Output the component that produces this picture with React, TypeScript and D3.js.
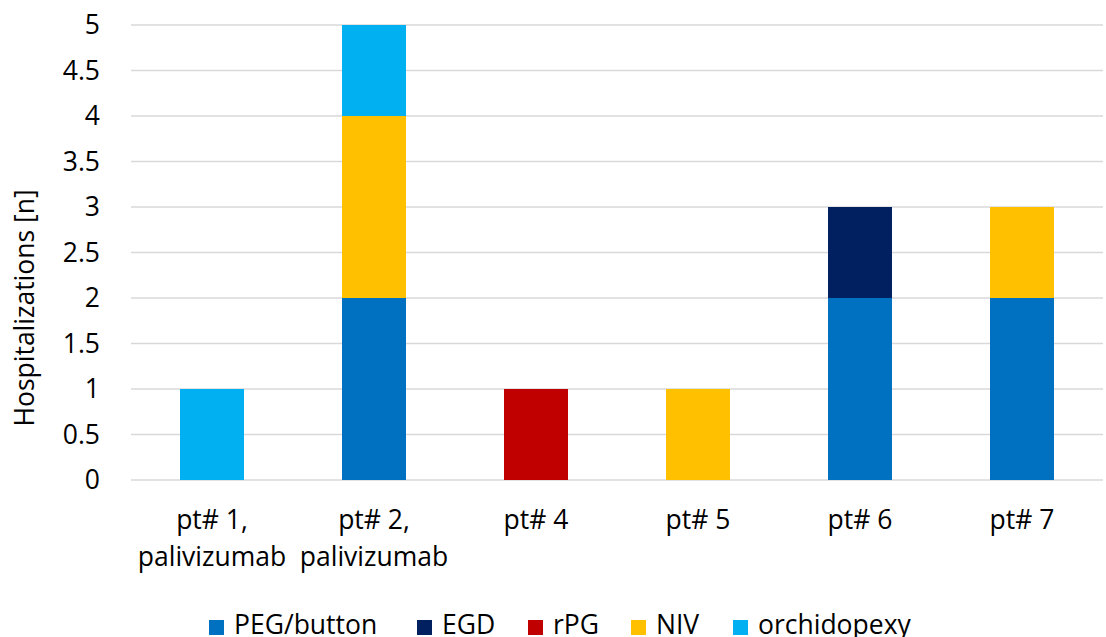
import React from "react";
import * as d3 from "d3";

const categories = [["pt# 1,", "palivizumab"], ["pt# 2,", "palivizumab"], ["pt# 4"], ["pt# 5"], ["pt# 6"], ["pt# 7"]];
const seriesNames = ["PEG/button", "EGD", "rPG", "NIV", "orchidopexy"];
const seriesColors = ["#0070C0", "#002060", "#C00000", "#FFC000", "#00B0F0"];
const pegButton = [0, 2, 0, 0, 2, 2];
const egd = [0, 0, 0, 0, 1, 0];
const rpg = [0, 0, 1, 0, 0, 0];
const niv = [0, 2, 0, 1, 0, 1];
const orchidopexy = [1, 1, 0, 0, 0, 0];
const yTicks = [0, 0.5, 1, 1.5, 2, 2.5, 3, 3.5, 4, 4.5, 5];
const yTitle = "Hospitalizations [n]";

const W = 1106, H = 637;
const FONT = "'Open Sans', sans-serif";
const FS = 26.5;

export default function App() {
  const seriesValues = [pegButton, egd, rpg, niv, orchidopexy];
  const rows = categories.map((c, i) => {
    const r: any = { key: i };
    seriesNames.forEach((s, j) => (r[s] = seriesValues[j][i]));
    return r;
  });
  const stacked = d3.stack<any>().keys(seriesNames)(rows);
  const x = d3.scaleBand<number>().domain(categories.map((_, i) => i)).range([131, 1103]).paddingInner(0.605).paddingOuter(0.3025);
  const y = d3.scaleLinear().domain([0, 5]).range([480, 25]);
  const legendX = [209, 417, 528, 631, 733];

  return (
    <svg width={W} height={H} style={{ position: "absolute", left: 0, top: 0, background: "#fff" }} fontFamily={FONT}>
      {yTicks.map((t) => (
        <g key={t}>
          <line x1={131} x2={1103} y1={y(t)} y2={y(t)} stroke="#D9D9D9" strokeWidth={1.5} />
          <text x={100} y={y(t)} dy="0.35em" textAnchor="end" fontSize={FS} fill="#000">{d3.format("~g")(t)}</text>
        </g>
      ))}
      {stacked.map((s, j) => (
        <g key={s.key} fill={seriesColors[j]}>
          {s.map((d, i) => d[1] - d[0] > 0 ? (
            <rect key={i} x={x(i)} width={x.bandwidth()} y={y(d[1])} height={y(d[0]) - y(d[1])} />
          ) : null)}
        </g>
      ))}
      {categories.map((c, i) => (
        <text key={i} x={(x(i) as number) + x.bandwidth() / 2} textAnchor="middle" fontSize={FS} fill="#000">
          {c.map((line, k) => (
            <tspan key={k} x={(x(i) as number) + x.bandwidth() / 2} y={529 + k * 37}>{line}</tspan>
          ))}
        </text>
      ))}
      <text transform="translate(34,308) rotate(-90)" textAnchor="middle" fontSize={FS} fill="#000">{yTitle}</text>
      {seriesNames.map((s, j) => (
        <g key={s}>
          <rect x={legendX[j]} y={620} width={15} height={15} fill={seriesColors[j]} />
          <text x={legendX[j] + 25} y={634} fontSize={FS} fill="#000">{s}</text>
        </g>
      ))}
    </svg>
  );
}
